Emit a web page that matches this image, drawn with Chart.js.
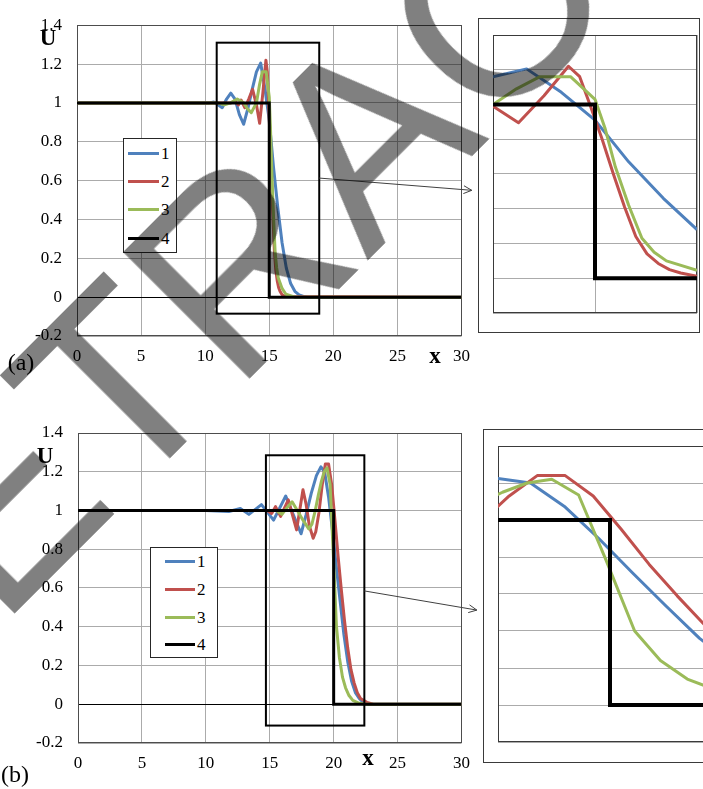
<!DOCTYPE html>
<html lang="en">
<head>
<meta charset="UTF-8">
<title>U(x)</title>
<script src="https://cdn.jsdelivr.net/npm/chart.js"></script>
<style>
  body { margin: 0; background: #fff; }
  #page { position: relative; width: 703px; height: 789px; overflow: hidden; background: #fff; font-family: "Liberation Serif", "Times New Roman", serif; }
  canvas { position: absolute; }
  .lbl { position: absolute; transform: translate(-50%, -50%); color: #000; white-space: nowrap; line-height: 1; }
  .frame { position: absolute; border: 1px solid #3a3a3a; box-sizing: border-box; }
  .legend { position: absolute; background: #fff; border: 1px solid #262626; box-sizing: border-box; }
  .legend i { position: absolute; height: 3px; margin-top: -1.5px; }
  .legend span { position: absolute; font-size: 17px; line-height: 1; transform: translateY(-50%); }
  #stamp { position: absolute; left: 365px; top: 136px; transform: translate(-50%, -50%) rotate(-45deg);
           font: 260px "Liberation Sans", Arial, sans-serif; line-height: 1; color: #808080;
           mix-blend-mode: multiply; white-space: nowrap; pointer-events: none; }
</style>
</head>
<body>
<div id="page">
  <canvas id="mainA" width="480" height="380" style="left:0;top:0"></canvas>
  <div class="frame" style="left:478px;top:18px;width:222px;height:315px"></div>
  <canvas id="zoomA" width="206" height="280" style="left:492px;top:34px"></canvas>

  <canvas id="mainB" width="480" height="399" style="left:0;top:390px"></canvas>
  <div class="frame" style="left:483px;top:429px;width:260px;height:334px"></div>
  <canvas id="zoomB" width="226" height="298" style="left:497px;top:445px"></canvas>

  <div class="legend" id="legA" style="left:123px;top:138px;width:54px;height:115px"></div>
  <div class="legend" id="legB" style="left:150px;top:547px;width:68px;height:111px"></div>

  <div class="lbl" style="left:48px;top:37px;font-size:23px;font-weight:bold">U</div>
  <div class="lbl" style="left:435px;top:355px;font-size:23px;font-weight:bold">x</div>
  <div class="lbl" style="left:21px;top:362px;font-size:24px">(a)</div>
  <div class="lbl" style="left:45px;top:455px;font-size:23px;font-weight:bold">U</div>
  <div class="lbl" style="left:368px;top:757px;font-size:23px;font-weight:bold">x</div>
  <div class="lbl" style="left:15px;top:774px;font-size:24px">(b)</div>

  <div id="stamp">RETRACTED</div>
</div>

<script>
// curve names and colours (1, 2, 3 = numerical, 4 = exact step)
const series = ['1', '2', '3', '4'];
const colors = ['#4F81BD', '#C0504D', '#9BBB59', '#000000'];

// panel (a): front at x = 15
const xA1 = [0, 10, 10.33, 10.67, 11, 11.33, 11.67, 12, 12.33, 12.67, 13, 13.33, 13.67, 14, 14.33, 14.67, 15, 15.33, 15.67, 16, 16.33, 16.67, 17, 17.33, 17.67, 18, 30];
const uA1 = [1, 1, 1, 1.005, 0.99, 0.975, 1.02, 1.05, 1.02, 0.94, 0.89, 0.97, 1.07, 1.16, 1.205, 1.07, 0.91, 0.67, 0.46, 0.28, 0.15, 0.07, 0.03, 0.012, 0.004, 0, 0];
const xA2 = [0, 11, 11.5, 12, 12.3, 12.6, 12.8, 13.1, 13.4, 13.7, 14.0, 14.25, 14.5, 14.74, 14.85, 14.95, 15.07, 15.18, 15.29, 15.4, 15.51, 15.62, 15.73, 15.84, 16, 16.3, 30];
const uA2 = [1, 1, 1, 1, 1.01, 0.99, 1.015, 0.975, 1.02, 1.07, 0.99, 0.895, 1.05, 1.22, 1.16, 1.0, 0.8, 0.6, 0.41, 0.24, 0.14, 0.085, 0.05, 0.03, 0.012, 0.003, 0];
const xA3 = [0, 11, 11.5, 12, 12.5, 13, 13.3, 13.6, 14.0, 14.23, 14.46, 14.76, 15.0, 15.1, 15.2, 15.33, 15.46, 15.58, 15.7, 16.0, 16.3, 17, 30];
const uA3 = [1, 1, 0.99, 1.0, 1.02, 1.0, 0.97, 0.95, 1.0, 1.09, 1.16, 1.16, 1.03, 0.86, 0.64, 0.42, 0.23, 0.15, 0.10, 0.045, 0.015, 0, 0];
const xA4 = [0, 15, 15, 30];
const uA4 = [1, 1, 0, 0];

// panel (b): front at x = 20
const xB1 = [0, 10, 11.8, 12.7, 13.37, 14.35, 15.3, 16.25, 17.45, 17.85, 18.25, 18.65, 19.0, 19.29, 19.6, 19.9, 20.2, 20.5, 20.8, 21.1, 21.4, 21.7, 22.0, 22.3, 22.7, 30];
const uB1 = [1, 1, 0.995, 1.01, 0.98, 1.03, 0.95, 1.075, 0.88, 0.98, 1.09, 1.18, 1.225, 1.20, 1.07, 0.90, 0.715, 0.535, 0.36, 0.22, 0.12, 0.06, 0.03, 0.01, 0, 0];
const xB2 = [0, 14, 14.8, 15.15, 15.45, 15.85, 16.45, 17.1, 17.6, 17.85, 18.1, 18.4, 18.6, 18.85, 19.1, 19.35, 19.6, 19.85, 20.1, 20.35, 20.6, 20.85, 21.1, 21.35, 21.6, 21.85, 22.1, 22.6, 23.1, 30];
const uB2 = [1, 1, 1.0, 0.985, 1.02, 0.97, 1.055, 0.9, 1.107, 1.03, 0.92, 0.857, 0.89, 0.99, 1.13, 1.24, 1.24, 1.13, 0.95, 0.76, 0.59, 0.43, 0.29, 0.18, 0.11, 0.06, 0.03, 0.01, 0, 0];
const xB3 = [0, 14, 15, 15.5, 15.95, 16.3, 16.75, 17.25, 17.6, 18.05, 18.3, 18.56, 18.8, 19.04, 19.26, 19.48, 19.72, 19.96, 20.22, 20.45, 20.69, 20.93, 21.2, 21.5, 22, 22.5, 30];
const uB3 = [1, 1, 1, 1, 0.98, 1.01, 1.045, 0.99, 0.95, 0.905, 0.93, 1.0, 1.08, 1.15, 1.2, 1.22, 1.135, 0.79, 0.40, 0.24, 0.14, 0.085, 0.045, 0.02, 0.005, 0, 0];
const xB4 = [0, 20, 20, 30];
const uB4 = [1, 1, 0, 0];

// axis ticks
const xTicks = [0, 5, 10, 15, 20, 25, 30];
const xLabels = ['0', '5', '10', '15', '20', '25', '30'];
const yTicks = [-0.2, 0, 0.2, 0.4, 0.6, 0.8, 1, 1.2, 1.4];
const yLabels = ['-0.2', '0', '0.2', '0.4', '0.6', '0.8', '1', '1.2', '1.4'];

const gridGray = '#ababab';
const tickFont = { family: 'Liberation Serif', size: 17 };

function pts(xs, us) {
    return xs.map((x, i) => ({ x: x, y: us[i] }));
}

function makeSets(xs, us, widths) {
    return xs.map((x, i) => ({
        label: series[i],
        data: pts(x, us[i]),
        borderColor: colors[i],
        borderWidth: widths[i],
        pointRadius: 0,
        tension: 0,
        borderJoinStyle: i === 3 ? 'miter' : 'round',
        borderCapStyle: 'butt',
        order: 3 - i          // step line drawn last, on top
    }));
}

// plot frame, zoom box and arrow to the inset
const cadre = {
    id: 'cadre',
    beforeDatasetsDraw(chart, args, o) {
        const a = chart.chartArea, ctx = chart.ctx;
        ctx.save();
        ctx.strokeStyle = o.frame || '#4d4d4d';
        ctx.lineWidth = 1;
        ctx.strokeRect(Math.round(a.left) + 0.5, Math.round(a.top) + 0.5, Math.round(a.width) - 1, Math.round(a.height) - 1);
        ctx.restore();
    },
    afterDatasetsDraw(chart, args, o) {
        const ctx = chart.ctx, sx = chart.scales.x, sy = chart.scales.y;
        ctx.save();
        if (o.box) {
            const l = sx.getPixelForValue(o.box.x0), r = sx.getPixelForValue(o.box.x1);
            const t = sy.getPixelForValue(o.box.y1), b = sy.getPixelForValue(o.box.y0);
            ctx.strokeStyle = '#000';
            ctx.lineWidth = 2;
            ctx.strokeRect(l, t, r - l, b - t);
        }
        if (o.arrow) {
            const x0 = sx.getPixelForValue(o.arrow.x0), y0 = sy.getPixelForValue(o.arrow.y0);
            const x1 = sx.getPixelForValue(o.arrow.x1), y1 = sy.getPixelForValue(o.arrow.y1);
            const ang = Math.atan2(y1 - y0, x1 - x0);
            ctx.strokeStyle = '#404040';
            ctx.lineWidth = 1;
            ctx.beginPath();
            ctx.moveTo(x0, y0);
            ctx.lineTo(x1, y1);
            ctx.moveTo(x1 - 9 * Math.cos(ang - 0.45), y1 - 9 * Math.sin(ang - 0.45));
            ctx.lineTo(x1, y1);
            ctx.lineTo(x1 - 9 * Math.cos(ang + 0.45), y1 - 9 * Math.sin(ang + 0.45));
            ctx.stroke();
        }
        ctx.restore();
    }
};

function mainChart(id, sets, pad, yWidth, box, arrow) {
    return new Chart(document.getElementById(id), {
        type: 'line',
        data: { datasets: sets },
        options: {
            responsive: false,
            animation: false,
            events: [],
            layout: { padding: pad },
            plugins: { legend: { display: false }, tooltip: { enabled: false }, cadre: { box: box, arrow: arrow } },
            scales: {
                x: {
                    type: 'linear', min: 0, max: 30,
                    afterBuildTicks: s => { s.ticks = xTicks.map(v => ({ value: v })); },
                    afterFit: s => { s.height = 30; },
                    grid: { color: gridGray, drawTicks: false },
                    border: { display: false },
                    ticks: { autoSkip: false, maxRotation: 0, minRotation: 0, padding: 10, color: '#000', font: tickFont,
                             callback: (v, i) => xLabels[i] }
                },
                y: {
                    type: 'linear', min: -0.2, max: 1.4,
                    afterBuildTicks: s => { s.ticks = yTicks.map(v => ({ value: v })); },
                    afterFit: s => { s.width = yWidth; },
                    grid: { color: c => (c.tick && c.tick.value === 0) ? '#000' : gridGray, drawTicks: false },
                    border: { display: false },
                    ticks: { padding: 15, color: '#000', font: tickFont, callback: (v, i) => yLabels[i] }
                }
            }
        },
        plugins: [cadre]
    });
}

function zoomChart(id, sets, xmin, xmax, xGrid) {
    return new Chart(document.getElementById(id), {
        type: 'line',
        data: { datasets: sets },
        options: {
            responsive: false,
            animation: false,
            events: [],
            layout: { padding: 1 },
            plugins: { legend: { display: false }, tooltip: { enabled: false }, cadre: { frame: '#3a3a3a' } },
            scales: {
                x: {
                    type: 'linear', min: xmin, max: xmax,
                    afterBuildTicks: s => { s.ticks = (xGrid || []).map(v => ({ value: v })); },
                    afterFit: s => { s.height = 0; },
                    grid: { display: !!xGrid, color: gridGray, drawTicks: false },
                    border: { display: false },
                    ticks: { display: false }
                },
                y: {
                    type: 'linear', min: -0.2, max: 1.4,
                    afterBuildTicks: s => { s.ticks = yTicks.map(v => ({ value: v })); },
                    afterFit: s => { s.width = 0; },
                    grid: { color: gridGray, drawTicks: false },
                    border: { display: false },
                    ticks: { display: false }
                }
            }
        },
        plugins: [cadre]
    });
}

function legend(id, x0, x1, rows) {
    const box = document.getElementById(id);
    series.forEach((name, i) => {
        const ln = document.createElement('i');
        ln.style.cssText = `left:${x0}px;width:${x1 - x0}px;top:${rows[i]}px;background:${colors[i]}`;
        const tx = document.createElement('span');
        tx.style.cssText = `left:${x1 + 2}px;top:${rows[i]}px`;
        tx.textContent = name;
        box.appendChild(ln);
        box.appendChild(tx);
    });
}

const xsA = [xA1, xA2, xA3, xA4], usA = [uA1, uA2, uA3, uA4];
const xsB = [xB1, xB2, xB3, xB4], usB = [uB1, uB2, uB3, uB4];

mainChart('mainA', makeSets(xsA, usA, [3, 3, 3, 3]), { top: 15, right: 13, bottom: 14, left: 0 }, 77,
    { x0: 10.9, x1: 18.9, y0: -0.085, y1: 1.31 }, { x0: 18.9, y0: 0.613, x1: 30.8, y1: 0.55 });
zoomChart('zoomA', makeSets(xsA, usA, [3, 3, 3, 4]), 14, 16, [14, 15, 16]);

mainChart('mainB', makeSets(xsB, usB, [3, 3, 3, 3]), { top: 43, right: 16, bottom: 16, left: 0 }, 78,
    { x0: 14.7, x1: 22.4, y0: -0.11, y1: 1.285 }, { x0: 22.4, y0: 0.585, x1: 31.2, y1: 0.486 });
zoomChart('zoomB', makeSets(xsB, usB, [3, 3, 3, 4]), 19, 21, null);

legend('legA', 4, 35, [14, 42, 70, 99]);
legend('legB', 14, 44, [13, 41, 69, 96]);
</script>
</body>
</html>
